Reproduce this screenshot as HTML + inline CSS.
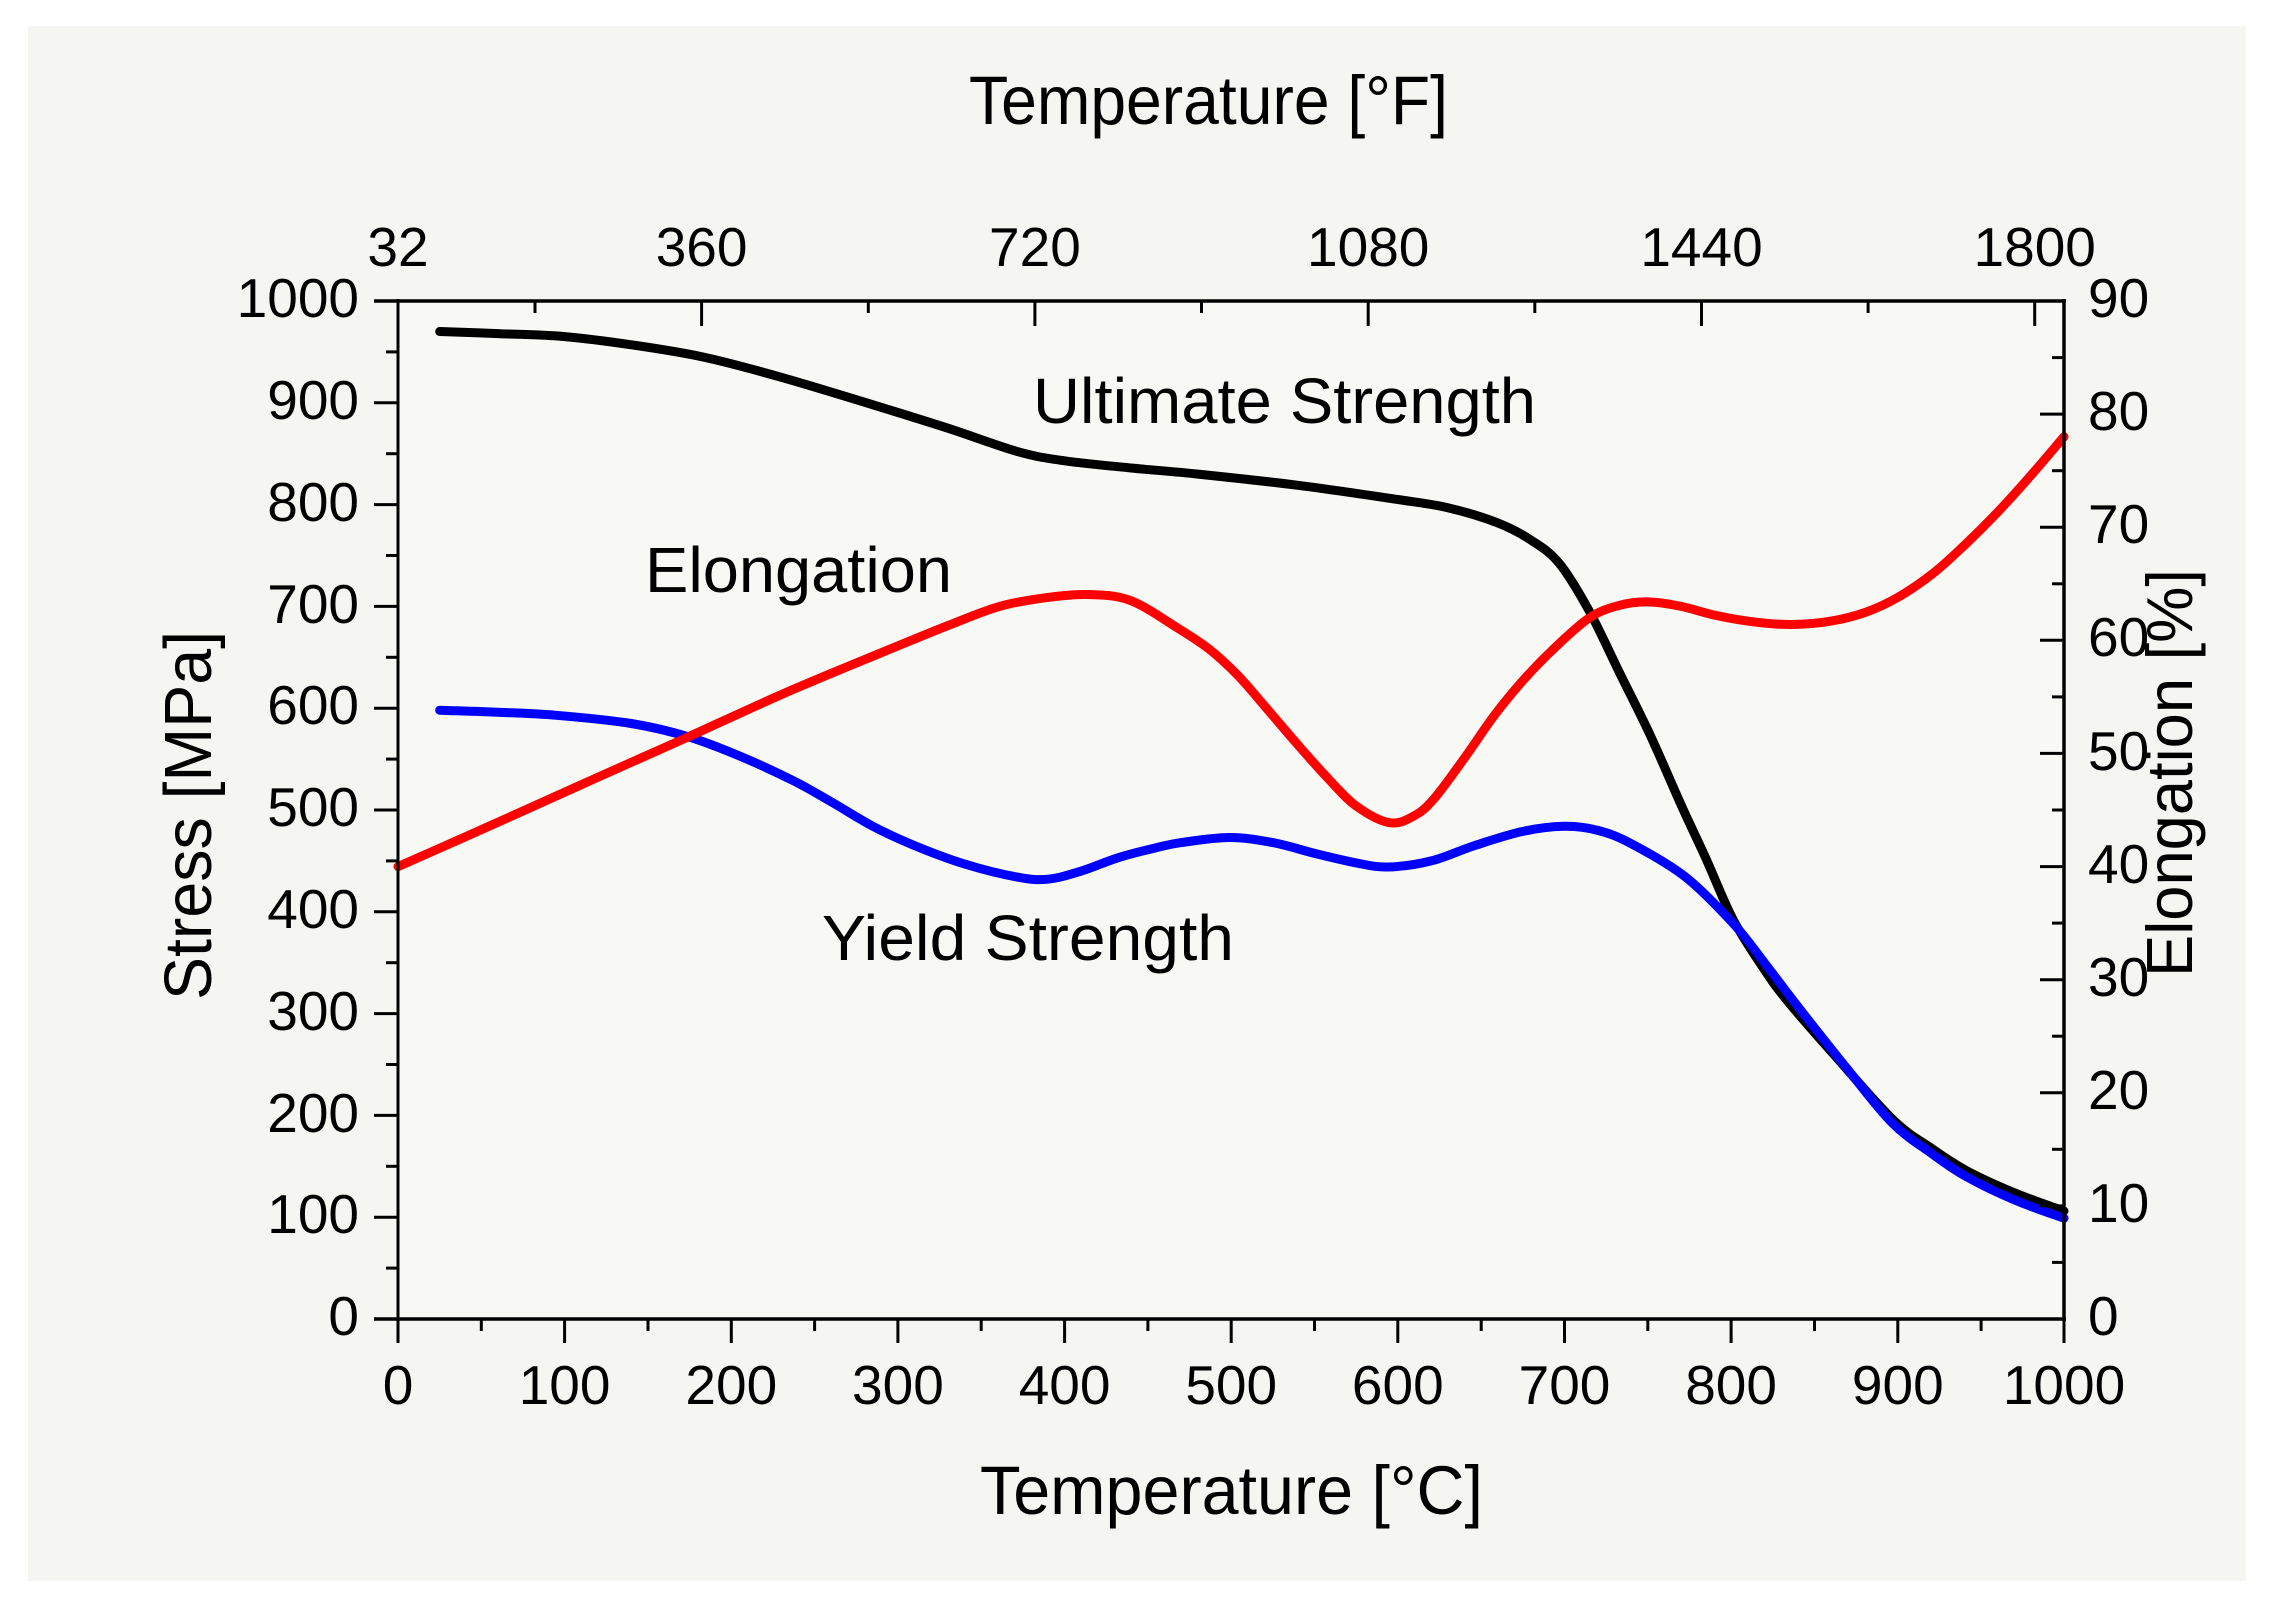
<!DOCTYPE html>
<html>
<head>
<meta charset="utf-8">
<style>
html,body{margin:0;padding:0;background:#ffffff;}
svg{display:block;}
text{font-family:"Liberation Sans",Arial,sans-serif;fill:#000;}
</style>
</head>
<body>
<svg id="chart" width="2270" height="1604" viewBox="0 0 2270 1604" xmlns="http://www.w3.org/2000/svg">
<rect x="0" y="0" width="2270" height="1604" fill="#ffffff"/>
<rect x="28" y="26" width="2218" height="1555" fill="#f5f5f2"/>
<rect x="398" y="301" width="1666" height="1018" fill="#f8f8f5"/>

<!-- curves -->
<g fill="none" stroke-width="9" stroke-linejoin="round" stroke-linecap="round">
<polyline class="crv" stroke="#000000" points="439.7,331.5 498,333.6 564.6,336.6 631.3,344.8 703,357 781.3,377.3 872.9,404.8 947.9,428.2 1017.9,451.7 1064.6,460.8 1131.2,468 1197.9,474.1 1297.9,485.3 1397.8,499.5 1447.8,507.7 1497.8,522.9 1531.2,540.2 1559.5,563.6 1589.5,611.5 1619.5,672.6 1649.5,733.6 1681.1,804.9 1706.1,858.9 1732.8,918.9 1761.1,964.7 1786.1,999.3 1832.8,1053.3 1892.8,1119.5 1931.1,1148 1966.1,1170.4 2014.4,1192.8 2064,1211.1"/>
<polyline class="crv" stroke="#0000ff" points="439.7,710.2 498,712.3 556.3,715.3 631.3,723.5 688,736.7 739.6,756 792.9,780.5 831.3,801.9 872.9,826.3 914.6,845.6 964.6,864 1017.9,877.2 1047.9,879.2 1081.2,871.1 1117.9,857.8 1156.2,847.7 1181.2,842.6 1229.5,837.5 1272.9,842.6 1316.2,853.8 1356.2,862.9 1387.8,867 1431.2,860.9 1474.5,845.6 1522.8,831.4 1564.5,826.3 1597.8,830.4 1631.1,843.6 1684.5,876.2 1732.8,923 1764.4,962.7 1797.8,1006.5 1847.8,1069.6 1892.8,1123.5 1931.1,1153.1 1966.1,1176.5 2014.4,1199.9 2064,1218.2"/>
<polyline class="crv" stroke="#ff0000" points="398,866.6 464.7,837.1 516.3,814 598,777.2 688,737 781.3,694.6 872.9,656.2 947.9,625.6 999.6,606.4 1047.9,597.4 1091.2,594.6 1131.2,600.8 1177.9,628.2 1209.5,649.4 1237.8,675.4 1264.5,705.9 1296.2,742.9 1327.9,778.3 1356.2,806 1389.5,822.7 1414.5,815.7 1434.5,798.2 1464.5,758 1494.5,715.2 1524.5,678.8 1554.5,648 1589.5,617.7 1619.5,605.3 1647.8,601.9 1681.1,606.4 1716.1,615.5 1756.1,622.2 1792.8,624.5 1831.1,621.1 1866.1,612.1 1897.8,597.4 1932.8,573.6 1964.4,545.3 1999.4,510.3 2031.1,475.2 2064,436.7"/>
</g>

<!-- axes frame -->
<g stroke="#000" fill="none">
<line x1="374" y1="301" x2="2066" y2="301" stroke-width="3.5"/>
<line x1="374" y1="1319" x2="2066" y2="1319" stroke-width="3.5"/>
<line x1="398" y1="299" x2="398" y2="1343" stroke-width="3"/>
<line x1="2064" y1="299" x2="2064" y2="1321" stroke-width="3.5"/>
</g>

<!-- left ticks (outward) -->
<g stroke="#000" stroke-width="3">
<line x1="374" y1="402.8" x2="398" y2="402.8"/>
<line x1="374" y1="504.6" x2="398" y2="504.6"/>
<line x1="374" y1="606.4" x2="398" y2="606.4"/>
<line x1="374" y1="708.2" x2="398" y2="708.2"/>
<line x1="374" y1="810" x2="398" y2="810"/>
<line x1="374" y1="911.8" x2="398" y2="911.8"/>
<line x1="374" y1="1013.6" x2="398" y2="1013.6"/>
<line x1="374" y1="1115.4" x2="398" y2="1115.4"/>
<line x1="374" y1="1217.2" x2="398" y2="1217.2"/>
<line x1="386" y1="351.9" x2="398" y2="351.9"/>
<line x1="386" y1="453.7" x2="398" y2="453.7"/>
<line x1="386" y1="555.5" x2="398" y2="555.5"/>
<line x1="386" y1="657.3" x2="398" y2="657.3"/>
<line x1="386" y1="759.1" x2="398" y2="759.1"/>
<line x1="386" y1="860.9" x2="398" y2="860.9"/>
<line x1="386" y1="962.7" x2="398" y2="962.7"/>
<line x1="386" y1="1064.5" x2="398" y2="1064.5"/>
<line x1="386" y1="1166.3" x2="398" y2="1166.3"/>
<line x1="386" y1="1268.1" x2="398" y2="1268.1"/>
</g>

<!-- bottom ticks (outward) -->
<g stroke="#000" stroke-width="3">
<line x1="564.6" y1="1319" x2="564.6" y2="1343"/>
<line x1="731.3" y1="1319" x2="731.3" y2="1343"/>
<line x1="897.9" y1="1319" x2="897.9" y2="1343"/>
<line x1="1064.6" y1="1319" x2="1064.6" y2="1343"/>
<line x1="1231.2" y1="1319" x2="1231.2" y2="1343"/>
<line x1="1397.8" y1="1319" x2="1397.8" y2="1343"/>
<line x1="1564.5" y1="1319" x2="1564.5" y2="1343"/>
<line x1="1731.1" y1="1319" x2="1731.1" y2="1343"/>
<line x1="1897.8" y1="1319" x2="1897.8" y2="1343"/>
<line x1="2064" y1="1319" x2="2064" y2="1343"/>
<line x1="481.3" y1="1319" x2="481.3" y2="1331"/>
<line x1="648" y1="1319" x2="648" y2="1331"/>
<line x1="814.6" y1="1319" x2="814.6" y2="1331"/>
<line x1="981.2" y1="1319" x2="981.2" y2="1331"/>
<line x1="1147.9" y1="1319" x2="1147.9" y2="1331"/>
<line x1="1314.5" y1="1319" x2="1314.5" y2="1331"/>
<line x1="1481.2" y1="1319" x2="1481.2" y2="1331"/>
<line x1="1647.8" y1="1319" x2="1647.8" y2="1331"/>
<line x1="1814.5" y1="1319" x2="1814.5" y2="1331"/>
<line x1="1981.1" y1="1319" x2="1981.1" y2="1331"/>
</g>

<!-- right ticks (inward) -->
<g stroke="#000" stroke-width="3">
<line x1="2040" y1="1205.9" x2="2064" y2="1205.9"/>
<line x1="2040" y1="1092.8" x2="2064" y2="1092.8"/>
<line x1="2040" y1="979.7" x2="2064" y2="979.7"/>
<line x1="2040" y1="866.6" x2="2064" y2="866.6"/>
<line x1="2040" y1="753.4" x2="2064" y2="753.4"/>
<line x1="2040" y1="640.3" x2="2064" y2="640.3"/>
<line x1="2040" y1="527.2" x2="2064" y2="527.2"/>
<line x1="2040" y1="414.1" x2="2064" y2="414.1"/>
<line x1="2052" y1="1262.4" x2="2064" y2="1262.4"/>
<line x1="2052" y1="1149.3" x2="2064" y2="1149.3"/>
<line x1="2052" y1="1036.2" x2="2064" y2="1036.2"/>
<line x1="2052" y1="923.1" x2="2064" y2="923.1"/>
<line x1="2052" y1="810" x2="2064" y2="810"/>
<line x1="2052" y1="696.9" x2="2064" y2="696.9"/>
<line x1="2052" y1="583.8" x2="2064" y2="583.8"/>
<line x1="2052" y1="470.7" x2="2064" y2="470.7"/>
<line x1="2052" y1="357.6" x2="2064" y2="357.6"/>
</g>

<!-- top ticks (inward) -->
<g stroke="#000" stroke-width="3">
<line x1="701.6" y1="301" x2="701.6" y2="326"/>
<line x1="1034.9" y1="301" x2="1034.9" y2="326"/>
<line x1="1368.2" y1="301" x2="1368.2" y2="326"/>
<line x1="1701.5" y1="301" x2="1701.5" y2="326"/>
<line x1="2034.7" y1="301" x2="2034.7" y2="326"/>
<line x1="535" y1="301" x2="535" y2="313"/>
<line x1="868.3" y1="301" x2="868.3" y2="313"/>
<line x1="1201.5" y1="301" x2="1201.5" y2="313"/>
<line x1="1534.8" y1="301" x2="1534.8" y2="313"/>
<line x1="1868.1" y1="301" x2="1868.1" y2="313"/>
</g>

<!-- left tick labels -->
<g font-size="55" text-anchor="end">
<text x="359" y="317">1000</text>
<text x="359" y="419">900</text>
<text x="359" y="521">800</text>
<text x="359" y="623">700</text>
<text x="359" y="724">600</text>
<text x="359" y="826">500</text>
<text x="359" y="928">400</text>
<text x="359" y="1030">300</text>
<text x="359" y="1132">200</text>
<text x="359" y="1233">100</text>
<text x="359" y="1335">0</text>
</g>

<!-- bottom tick labels -->
<g font-size="55" text-anchor="middle">
<text x="398" y="1404">0</text>
<text x="564.6" y="1404">100</text>
<text x="731.3" y="1404">200</text>
<text x="897.9" y="1404">300</text>
<text x="1064.6" y="1404">400</text>
<text x="1231.2" y="1404">500</text>
<text x="1397.8" y="1404">600</text>
<text x="1564.5" y="1404">700</text>
<text x="1731.1" y="1404">800</text>
<text x="1897.8" y="1404">900</text>
<text x="2064" y="1404">1000</text>
</g>

<!-- right tick labels -->
<g font-size="55" text-anchor="start">
<text x="2088" y="1335">0</text>
<text x="2088" y="1222">10</text>
<text x="2088" y="1109">20</text>
<text x="2088" y="996">30</text>
<text x="2088" y="883">40</text>
<text x="2088" y="770">50</text>
<text x="2088" y="656">60</text>
<text x="2088" y="543">70</text>
<text x="2088" y="430">80</text>
<text x="2088" y="317">90</text>
</g>

<!-- top tick labels -->
<g font-size="55" text-anchor="middle">
<text x="398" y="266">32</text>
<text x="701.6" y="266">360</text>
<text x="1034.9" y="266">720</text>
<text x="1368.2" y="266">1080</text>
<text x="1701.5" y="266">1440</text>
<text x="2034.7" y="266">1800</text>
</g>

<!-- axis titles -->
<text x="969" y="124" font-size="69" textLength="479" lengthAdjust="spacingAndGlyphs">Temperature [°F]</text>
<text x="980" y="1514" font-size="69" textLength="503" lengthAdjust="spacingAndGlyphs">Temperature [°C]</text>
<text transform="translate(211,1000) rotate(-90)" font-size="67" textLength="369" lengthAdjust="spacingAndGlyphs">Stress [MPa]</text>
<text transform="translate(2192,977) rotate(-90)" font-size="65" textLength="408" lengthAdjust="spacingAndGlyphs">Elongation [%]</text>

<!-- in-plot labels -->
<text x="1033" y="423" font-size="64" textLength="503" lengthAdjust="spacingAndGlyphs">Ultimate Strength</text>
<text x="645" y="592" font-size="64" textLength="307" lengthAdjust="spacingAndGlyphs">Elongation</text>
<text x="822" y="960" font-size="64" textLength="412" lengthAdjust="spacingAndGlyphs">Yield Strength</text>
</svg>
<script>
(function(){
  var NS="http://www.w3.org/2000/svg";
  var lines=document.querySelectorAll("polyline.crv");
  for(var k=0;k<lines.length;k++){
    var pl=lines[k];
    var raw=pl.getAttribute("points").trim().split(/\s+/);
    var p=[];
    for(var i=0;i<raw.length;i++){var a=raw[i].split(",");p.push([parseFloat(a[0]),parseFloat(a[1])]);}
    var d="M"+p[0][0]+","+p[0][1];
    for(var i=0;i<p.length-1;i++){
      var p0=p[i>0?i-1:i],p1=p[i],p2=p[i+1],p3=p[i+2<p.length?i+2:i+1];
      var c1x=p1[0]+(p2[0]-p0[0])/6,c1y=p1[1]+(p2[1]-p0[1])/6;
      var c2x=p2[0]-(p3[0]-p1[0])/6,c2y=p2[1]-(p3[1]-p1[1])/6;
      d+=" C"+c1x.toFixed(1)+","+c1y.toFixed(1)+" "+c2x.toFixed(1)+","+c2y.toFixed(1)+" "+p2[0]+","+p2[1];
    }
    var path=document.createElementNS(NS,"path");
    path.setAttribute("d",d);
    path.setAttribute("stroke",pl.getAttribute("stroke"));
    pl.parentNode.insertBefore(path,pl);
    pl.parentNode.removeChild(pl);
  }
})();
</script>
</body>
</html>
